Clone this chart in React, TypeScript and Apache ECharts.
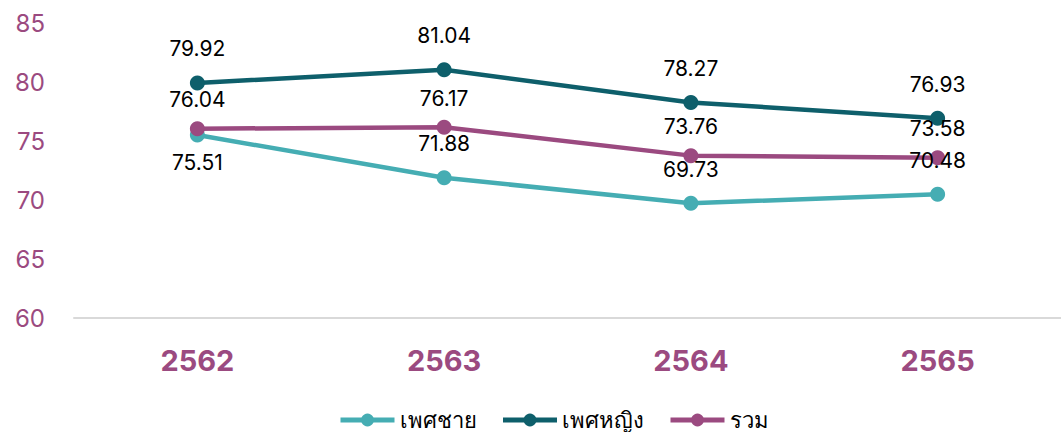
import React, { useEffect, useRef } from "react";
import * as echarts from "echarts";

const years = ["2562", "2563", "2564", "2565"];
const male = [75.51, 71.88, 69.73, 70.48];
const female = [79.92, 81.04, 78.27, 76.93];
const total = [76.04, 76.17, 73.76, 73.58];
const yTicks = { min: 60, max: 85, interval: 5 };

const PURPLE = "#9B4A80";
const FONT = "Inter, 'Noto Sans', sans-serif";

export default function App() {
  const ref = useRef<HTMLDivElement>(null);
  useEffect(() => {
    const chart = echarts.init(ref.current!, null, { renderer: "svg" });
    const labelBase = { show: true, color: "#000", fontSize: 21, fontFamily: FONT };
    chart.setOption({
      animation: false,
      textStyle: { fontFamily: FONT },
      grid: { left: 74, right: -6, top: 23, bottom: 114 },
      legend: {
        top: 402,
        left: 333,
        itemWidth: 54,
        itemHeight: 16,
        itemGap: 24,
        lineStyle: { width: 5 },
        textStyle: { fontSize: 22, color: "#000", fontFamily: FONT, lineHeight: 26 },
        data: ["เพศชาย", "เพศหญิง", "รวม"],
      },
      xAxis: {
        type: "category",
        data: years,
        axisLine: { lineStyle: { color: "#d9d9d9", width: 2 } },
        axisTick: { show: false },
        axisLabel: { color: PURPLE, fontSize: 29, fontWeight: "bold", margin: 28, fontFamily: FONT },
      },
      yAxis: {
        type: "value",
        min: yTicks.min,
        max: yTicks.max,
        interval: yTicks.interval,
        splitLine: { show: false },
        axisLine: { show: false },
        axisTick: { show: false },
        axisLabel: { color: PURPLE, fontSize: 24, margin: 29, fontFamily: FONT },
      },
      series: [
        {
          name: "เพศชาย",
          type: "line",
          data: male.map((v, i) =>
            i === 0
              ? { value: v, label: { position: "bottom", distance: 10 } }
              : { value: v }
          ),
          color: "#45ADB3",
          lineStyle: { width: 4.5 },
          symbol: "circle",
          symbolSize: 15,
          label: { ...labelBase, position: "top", distance: 16 },
        },
        {
          name: "เพศหญิง",
          type: "line",
          data: female,
          color: "#0E5F6B",
          lineStyle: { width: 4.5 },
          symbol: "circle",
          symbolSize: 15,
          label: { ...labelBase, position: "top", distance: 16 },
        },
        {
          name: "รวม",
          type: "line",
          data: total,
          color: PURPLE,
          lineStyle: { width: 4.5 },
          symbol: "circle",
          symbolSize: 15,
          label: { ...labelBase, position: "top", distance: 11 },
        },
      ],
    });
    return () => chart.dispose();
  }, []);
  return <div ref={ref} style={{ width: 1061, height: 432, position: "absolute", left: 0, top: 0 }} />;
}
